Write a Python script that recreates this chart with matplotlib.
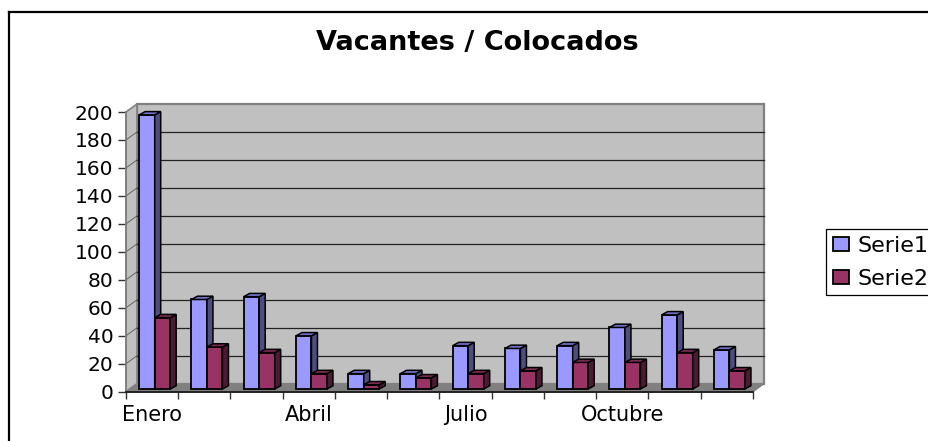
import matplotlib
matplotlib.use("Agg")
import matplotlib.pyplot as plt
from matplotlib.lines import Line2D
from matplotlib.patches import Polygon, Patch
from matplotlib.transforms import Affine2D

plt.rcParams['font.family'] = ['DejaVu Sans']

months = ["Enero", "", "", "Abril", "", "", "Julio", "", "", "Octubre", "", ""]
serie1 = [196, 64, 66, 38, 11, 11, 31, 29, 31, 44, 53, 28]
serie2 = [51, 30, 26, 11, 3, 8, 11, 13, 19, 19, 26, 13]
y_ticks = list(range(0, 201, 20))

W, H = 929, 441
LEFT, RIGHT, BOTTOM, TOP = 126, 753, 391.7, 112

# pixels -> data units
PX = len(months) / (RIGHT - LEFT)
PY = 200 / (BOTTOM - TOP)
BACK_X, BACK_Y = 11 * PX, 8 * PY
SIDE_X, SIDE_Y = 6 * PX, 3.3 * PY
BAR_W = 15.5 * PX
BAR_START = 13.2 * PX

WALL = "#C0C0C0"
FLOOR = "#808080"


def draw_bar(ax, x, val, face, side, top, trans):
    ax.bar(x, val, BAR_W, align="edge", color=face, edgecolor="black",
           linewidth=1.3, transform=trans, zorder=5, clip_on=False)
    x2 = x + BAR_W
    ax.add_patch(Polygon([(x2, 0), (x2 + SIDE_X, SIDE_Y), (x2 + SIDE_X, val + SIDE_Y), (x2, val)],
                         facecolor=side, edgecolor="black", linewidth=1.1,
                         transform=trans, zorder=5, clip_on=False))
    ax.add_patch(Polygon([(x, val), (x + SIDE_X, val + SIDE_Y), (x2 + SIDE_X, val + SIDE_Y), (x2, val)],
                         facecolor=top, edgecolor="black", linewidth=1.1,
                         transform=trans, zorder=5, clip_on=False))


def main():
    fig = plt.figure(figsize=(W / 100, H / 100), dpi=100)
    ax = fig.add_axes([LEFT / W, 1 - BOTTOM / H, (RIGHT - LEFT) / W, (BOTTOM - TOP) / H])
    n = len(months)
    ax.set_xlim(0, n)
    ax.set_ylim(0, 200)
    ax.patch.set_visible(False)
    for s in ["top", "right"]:
        ax.spines[s].set_visible(False)
    ax.spines["left"].set_color("#808080")
    ax.spines["left"].set_linewidth(1.2)
    ax.spines["bottom"].set_color("#222222")
    ax.spines["bottom"].set_linewidth(1.4)

    # walls and floor
    ax.add_patch(Polygon([(BACK_X, BACK_Y), (n + BACK_X, BACK_Y), (n + BACK_X, 200 + BACK_Y), (BACK_X, 200 + BACK_Y)],
                         facecolor=WALL, edgecolor=FLOOR, linewidth=1.6, clip_on=False, zorder=1))
    ax.add_patch(Polygon([(0, 0), (BACK_X, BACK_Y), (BACK_X, 200 + BACK_Y), (0, 200)],
                         facecolor=WALL, edgecolor=FLOOR, linewidth=1.2, clip_on=False, zorder=1))
    ax.add_patch(Polygon([(0, 0), (BACK_X, BACK_Y), (n + BACK_X, BACK_Y), (n, 0)],
                         facecolor=FLOOR, edgecolor=FLOOR, linewidth=1, clip_on=False, zorder=2))
    for v in y_ticks[1:-1]:
        ax.plot([BACK_X, n + BACK_X], [v + BACK_Y, v + BACK_Y], color="#222222", lw=0.9, zorder=2, clip_on=False)
        ax.plot([0, BACK_X], [v, v + BACK_Y], color="#555555", lw=0.6, zorder=2, clip_on=False)

    # bars sit a little behind the front edge of the floor
    trans = ax.transData + Affine2D().translate(0, 2.7)
    for i in range(n):
        x = i + BAR_START
        draw_bar(ax, x, serie1[i], "#9999FF", "#4D4D80", "#7070C8", trans)
        draw_bar(ax, x + BAR_W, serie2[i], "#993366", "#4D1A33", "#7A2952", trans)

    ax.set_yticks(y_ticks)
    ax.set_xticks(range(n + 1))
    ax.set_xticklabels([])
    ax.set_xticks([i + 0.5 for i in range(n)], labels=months, minor=True)
    ax.tick_params(axis="x", which="major", length=5, width=1, color="#333333")
    ax.tick_params(axis="x", which="minor", length=0, labelsize=15, pad=9.5)
    ax.tick_params(axis="y", length=6, width=1, color="#333333", labelsize=14.5, pad=3)

    fig.text(477 / W, 1 - 43.5 / H, "Vacantes / Colocados", ha="center", va="center",
             fontsize=19.5, fontweight="bold")

    # chart frame, only top and left are inside the picture
    fig.add_artist(Line2D([8.5 / W, 8.5 / W], [0, 1 - 12 / H], color="black", lw=1.6))
    fig.add_artist(Line2D([8.5 / W, 1], [1 - 12 / H, 1 - 12 / H], color="black", lw=1.6))

    handles = [Patch(facecolor="#9999FF", edgecolor="black", linewidth=1.3),
               Patch(facecolor="#993366", edgecolor="black", linewidth=1.3)]
    leg = fig.legend(handles, ["Serie1", "Serie2"], loc="upper left",
                     bbox_to_anchor=(826 / W, 1 - 229 / H), borderaxespad=0,
                     fontsize=16, fancybox=False, framealpha=1, edgecolor="black",
                     handlelength=0.72, handleheight=0.6, handletextpad=0.38,
                     labelspacing=0.58, borderpad=0.3)
    leg.get_frame().set_linewidth(0.9)

    fig.savefig("out.png", dpi=100)


if __name__ == "__main__":
    main()
